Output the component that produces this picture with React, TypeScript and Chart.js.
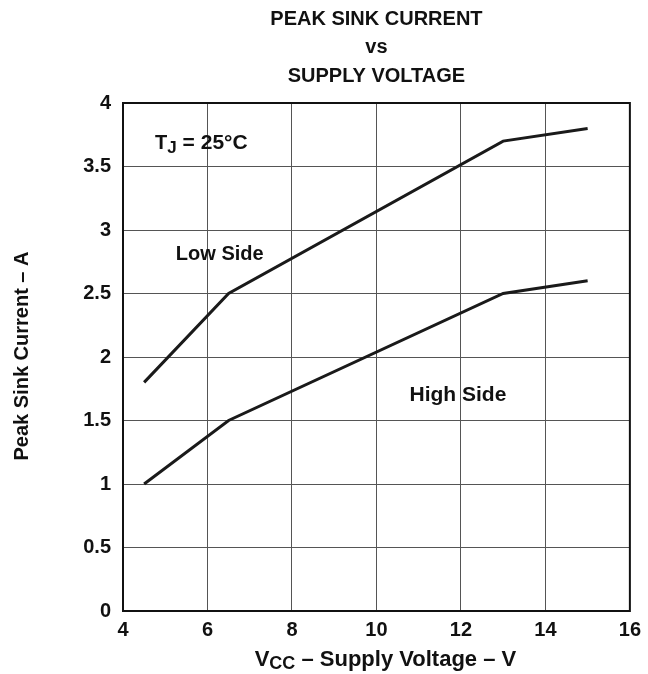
import React, { useEffect, useRef } from "react";
import { Chart, registerables } from "chart.js";

Chart.register(...registerables);

const lowSideX = [4.5, 6.5, 13, 15];
const lowSideY = [1.8, 2.5, 3.7, 3.8];
const highSideX = [4.5, 6.5, 13, 15];
const highSideY = [1.0, 1.5, 2.5, 2.6];
const xTicks = [4, 6, 8, 10, 12, 14, 16];
const yTicks = [0, 0.5, 1, 1.5, 2, 2.5, 3, 3.5, 4];
const titleLines = ["PEAK SINK CURRENT", "vs", "SUPPLY VOLTAGE"];

const FONT = "'Liberation Sans', Arial, Helvetica, sans-serif";

const textPlugin = {
  id: "customText",
  afterDraw(chart: any) {
    const ctx = chart.ctx as CanvasRenderingContext2D;
    const xs = chart.scales.x;
    const ys = chart.scales.y;
    const ca = chart.chartArea;
    const cx = (ca.left + ca.right) / 2;
    ctx.save();
    ctx.fillStyle = "#111";
    ctx.textBaseline = "middle";
    // Title
    ctx.font = `bold 20px ${FONT}`;
    ctx.textAlign = "center";
    const ty = [19, 47, 76];
    titleLines.forEach((t, i) => ctx.fillText(t, cx, ty[i]));

    // X axis title with subscript
    const partsX: Array<[string, number, number]> = [
      ["V", 22, 0],
      ["CC", 18, 4],
      [" \u2013 Supply Voltage \u2013 V", 22, 0],
    ];
    ctx.textAlign = "left";
    let total = 0;
    partsX.forEach(([s, sz]) => {
      ctx.font = `bold ${sz}px ${FONT}`;
      total += ctx.measureText(s).width;
    });
    let x = cx - total / 2 + 9;
    const xy = 660;
    partsX.forEach(([s, sz, dy]) => {
      ctx.font = `bold ${sz}px ${FONT}`;
      ctx.fillText(s, x, xy + dy);
      x += ctx.measureText(s).width;
    });

    // Y axis title
    ctx.save();
    ctx.translate(22, 356);
    ctx.rotate(-Math.PI / 2);
    ctx.textAlign = "center";
    ctx.font = `bold 20px ${FONT}`;
    ctx.fillText("Peak Sink Current \u2013 A", 0, 0);
    ctx.restore();

    // Annotations
    ctx.font = `bold 20px ${FONT}`;
    ctx.textAlign = "center";
    ctx.fillText("Low Side", xs.getPixelForValue(6.29), ys.getPixelForValue(2.81));
    ctx.font = `bold 21px ${FONT}`;
    ctx.fillText("High Side", xs.getPixelForValue(11.93), ys.getPixelForValue(1.7));

    ctx.textAlign = "left";
    let tx = xs.getPixelForValue(4.76);
    const tyy = ys.getPixelForValue(3.68);
    const partsT: Array<[string, number, number]> = [
      ["T", 20, 0],
      ["J", 17, 5],
      [" = 25\u00B0C", 21, 0],
    ];
    partsT.forEach(([s, sz, dy]) => {
      ctx.font = `bold ${sz}px ${FONT}`;
      ctx.fillText(s, tx, tyy + dy);
      tx += ctx.measureText(s).width;
    });
    ctx.restore();
  },
};

export default function App() {
  const ref = useRef<HTMLCanvasElement | null>(null);
  useEffect(() => {
    document.body.style.margin = "0";
    const canvas = ref.current!;
    const chart = new Chart(canvas, {
      type: "scatter",
      data: {
        datasets: [
          {
            label: "Low Side",
            data: lowSideX.map((x, i) => ({ x, y: lowSideY[i] })),
            showLine: true,
            borderColor: "#1a1a1a",
            borderWidth: 3,
            pointRadius: 0,
            tension: 0,
          },
          {
            label: "High Side",
            data: highSideX.map((x, i) => ({ x, y: highSideY[i] })),
            showLine: true,
            borderColor: "#1a1a1a",
            borderWidth: 3,
            pointRadius: 0,
            tension: 0,
          },
        ],
      },
      options: {
        responsive: false,
        animation: false,
        layout: { padding: { left: 0, right: 17, top: 103, bottom: 0 } },
        plugins: { legend: { display: false }, tooltip: { enabled: false }, title: { display: false } },
        scales: {
          x: {
            type: "linear",
            min: 4,
            max: 16,
            afterBuildTicks: (s: any) => {
              s.ticks = xTicks.map((v) => ({ value: v }));
            },
            afterFit: (s: any) => {
              s.height = 63;
            },
            ticks: {
              color: "#111",
              font: { family: FONT, size: 20, weight: "bold" },
              padding: 7,
            },
            grid: { color: "#555", lineWidth: 1, drawTicks: false },
            border: { color: "#111", width: 2 },
          },
          y: {
            type: "linear",
            min: 0,
            max: 4,
            afterBuildTicks: (s: any) => {
              s.ticks = yTicks.map((v) => ({ value: v }));
            },
            afterFit: (s: any) => {
              s.width = 123;
            },
            ticks: {
              color: "#111",
              font: { family: FONT, size: 20, weight: "bold" },
              padding: 12,
              callback: (v: any) => String(v),
            },
            grid: { color: "#555", lineWidth: 1, drawTicks: false },
            border: { color: "#111", width: 2 },
          },
        },
      },
      plugins: [
        textPlugin,
        {
          id: "frame",
          afterDatasetsDraw(chart: any) {
            const { ctx, chartArea: a } = chart;
            ctx.save();
            ctx.strokeStyle = "#111";
            ctx.lineWidth = 2;
            ctx.strokeRect(a.left, a.top, a.right - a.left, a.bottom - a.top);
            ctx.restore();
          },
        },
      ],
    } as any);
    return () => chart.destroy();
  }, []);
  return (
    <div style={{ width: 648, height: 674, background: "#fff" }}>
      <canvas ref={ref} width={648} height={674} />
    </div>
  );
}
